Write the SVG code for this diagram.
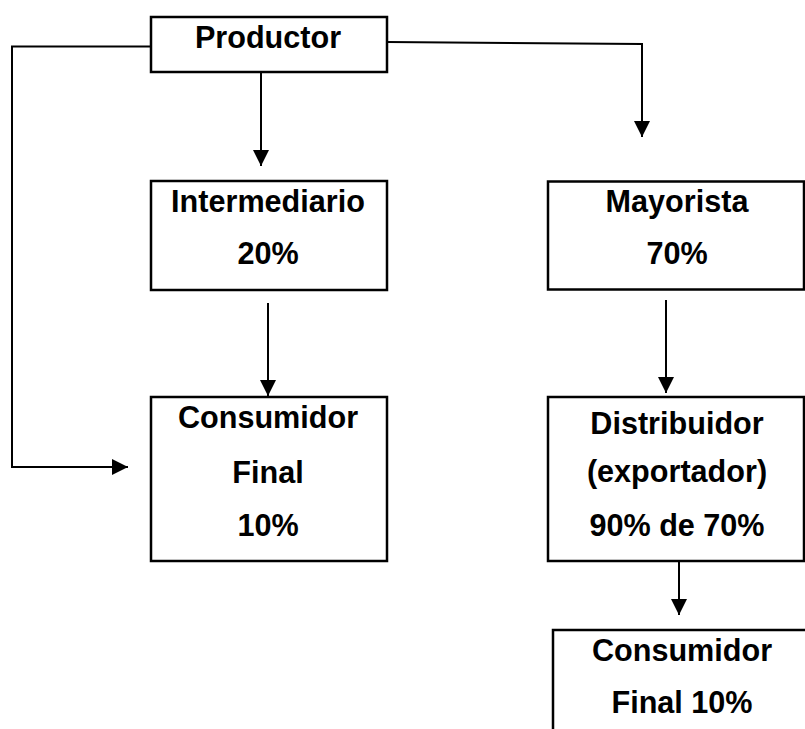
<svg xmlns="http://www.w3.org/2000/svg" width="805" height="729" viewBox="0 0 805 729">
<style>
.box{fill:#fff;stroke:#000;stroke-width:2.5}
.lbl{font-family:"Liberation Sans",Arial,sans-serif;font-weight:bold;font-size:30.6px;fill:#000;text-anchor:middle}
.con{fill:none;stroke:#000;stroke-width:2}
</style>
<defs>
<marker id="ah" markerUnits="userSpaceOnUse" markerWidth="16" markerHeight="16" viewBox="0 0 16 16" refX="16" refY="8" orient="auto">
<path d="M0,0 L16,8 L0,16 z" fill="#000"/>
</marker>
</defs>
<rect width="805" height="729" fill="#fff"/>
<g id="connectors">
<path class="con" d="M151,46.5 L12,46.5 L12,467 L128,467" marker-end="url(#ah)"/>
<path class="con" d="M387,42 L642,44 L642,137" marker-end="url(#ah)"/>
<path class="con" d="M261,72 L261,166" marker-end="url(#ah)"/>
<path class="con" d="M268,303 L268,396" marker-end="url(#ah)"/>
<path class="con" d="M666,300 L666,393" marker-end="url(#ah)"/>
<path class="con" d="M679,561 L679,615" marker-end="url(#ah)"/>
</g>
<g id="productor">
<rect class="box" x="151" y="17" width="236" height="55"/>
<text class="lbl" x="268" y="48">Productor</text>
</g>
<g id="intermediario">
<rect class="box" x="151" y="181" width="236" height="109"/>
<text class="lbl" x="268" y="212">Intermediario</text>
<text class="lbl" x="268" y="264">20%</text>
</g>
<g id="consumidor1">
<rect class="box" x="151" y="397" width="236" height="164"/>
<text class="lbl" x="268" y="428">Consumidor</text>
<text class="lbl" x="268" y="483">Final</text>
<text class="lbl" x="268" y="536">10%</text>
</g>
<g id="mayorista">
<rect class="box" x="548" y="181.5" width="256" height="108"/>
<text class="lbl" x="677" y="212">Mayorista</text>
<text class="lbl" x="677" y="264">70%</text>
</g>
<g id="distribuidor">
<rect class="box" x="548" y="397" width="256" height="164"/>
<text class="lbl" x="677" y="434">Distribuidor</text>
<text class="lbl" x="677" y="482">(exportador)</text>
<text class="lbl" x="677" y="536">90% de 70%</text>
</g>
<g id="consumidor2">
<rect class="box" x="553" y="630" width="260" height="110"/>
<text class="lbl" x="682" y="661">Consumidor</text>
<text class="lbl" x="682" y="713">Final 10%</text>
</g>
</svg>
